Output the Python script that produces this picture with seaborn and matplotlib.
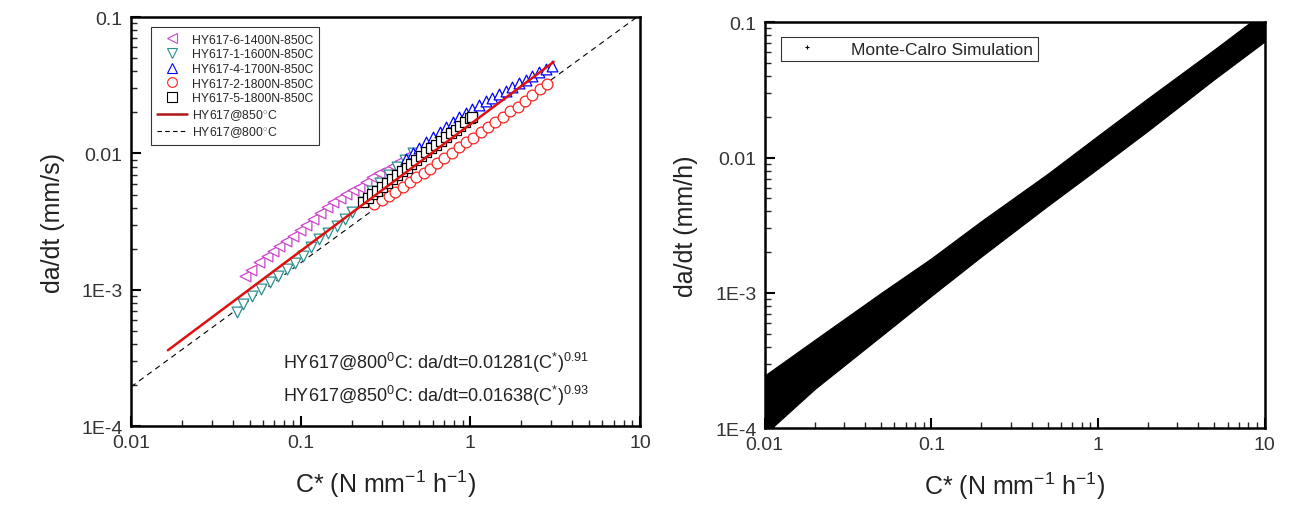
"""
Crack growth rate vs C* : test data (left) and Monte-Carlo simulation band (right)
"""

import matplotlib
matplotlib.use("Agg")
import matplotlib.pyplot as plt
from matplotlib.lines import Line2D
from matplotlib.ticker import FixedLocator, FixedFormatter, LogLocator, NullFormatter
import seaborn as sns

# ---- test data (C*, da/dt) ----
s6_x = [0.047, 0.051, 0.057, 0.063, 0.069, 0.075, 0.082, 0.090, 0.099, 0.108, 0.118, 0.130, 0.142,
        0.156, 0.170, 0.186, 0.204, 0.222, 0.243, 0.265, 0.290, 0.318, 0.348, 0.383, 0.421]
s6_y = [1.26e-3, 1.40e-3, 1.60e-3, 1.77e-3, 1.93e-3, 2.10e-3, 2.28e-3, 2.47e-3, 2.75e-3, 2.97e-3,
        3.30e-3, 3.65e-3, 4.03e-3, 4.40e-3, 4.72e-3, 5.05e-3, 5.38e-3, 5.66e-3, 6.15e-3, 6.70e-3,
        7.15e-3, 7.60e-3, 8.07e-3, 8.80e-3, 9.55e-3]

s1_x = [0.042, 0.046, 0.052, 0.058, 0.066, 0.074, 0.083, 0.092, 0.103, 0.115, 0.129, 0.145, 0.163,
        0.182, 0.202, 0.232, 0.262, 0.292, 0.330, 0.370, 0.410, 0.460]
s1_y = [6.85e-4, 7.80e-4, 8.98e-4, 1.02e-3, 1.14e-3, 1.27e-3, 1.42e-3, 1.58e-3, 1.77e-3, 2.05e-3,
        2.35e-3, 2.62e-3, 2.93e-3, 3.30e-3, 3.71e-3, 4.40e-3, 5.30e-3, 6.10e-3, 7.00e-3, 8.00e-3,
        9.00e-3, 1.00e-2]

s4_x = [0.42, 0.46, 0.50, 0.55, 0.60, 0.66, 0.72, 0.79, 0.86, 0.94, 1.03, 1.13, 1.24, 1.35, 1.48,
        1.62, 1.77, 1.94, 2.12, 2.32, 2.54, 2.78, 3.04]
s4_y = [9.1e-3, 1.00e-2, 1.09e-2, 1.21e-2, 1.32e-2, 1.44e-2, 1.57e-2, 1.71e-2, 1.85e-2, 1.99e-2,
        2.12e-2, 2.27e-2, 2.43e-2, 2.57e-2, 2.72e-2, 2.89e-2, 3.07e-2, 3.28e-2, 3.47e-2, 3.70e-2,
        3.93e-2, 4.15e-2, 4.37e-2]

s2_x = [0.272, 0.30, 0.33, 0.36, 0.40, 0.44, 0.48, 0.53, 0.58, 0.64, 0.70, 0.78, 0.86, 0.94, 1.04,
        1.15, 1.27, 1.40, 1.55, 1.72, 1.90, 2.10, 2.32, 2.57, 2.84]
s2_y = [4.25e-3, 4.55e-3, 4.88e-3, 5.22e-3, 5.70e-3, 6.20e-3, 6.70e-3, 7.20e-3, 7.75e-3, 8.45e-3,
        9.20e-3, 1.01e-2, 1.11e-2, 1.21e-2, 1.31e-2, 1.43e-2, 1.56e-2, 1.70e-2, 1.86e-2, 2.04e-2,
        2.21e-2, 2.42e-2, 2.68e-2, 2.95e-2, 3.22e-2]

s5_x = [0.232, 0.248, 0.265, 0.283, 0.302, 0.323, 0.345, 0.369, 0.394, 0.421, 0.450, 0.481, 0.514,
        0.549, 0.587, 0.627, 0.670, 0.716, 0.765, 0.818, 0.874, 0.934, 0.998, 1.03]
s5_y = [4.40e-3, 4.70e-3, 5.02e-3, 5.35e-3, 5.70e-3, 6.08e-3, 6.48e-3, 6.92e-3, 7.38e-3, 7.86e-3,
        8.38e-3, 8.94e-3, 9.54e-3, 1.02e-2, 1.09e-2, 1.16e-2, 1.24e-2, 1.32e-2, 1.41e-2, 1.50e-2,
        1.60e-2, 1.71e-2, 1.82e-2, 1.85e-2]

# fitted lines (end points)
fit850_x = [0.0165, 3.1]
fit850_y = [3.6e-4, 4.7e-2]
fit800_x = [0.01, 10]
fit800_y = [1.94e-4, 0.104]

series_labels = ["HY617-6-1400N-850C", "HY617-1-1600N-850C", "HY617-4-1700N-850C",
                 "HY617-2-1800N-850C", "HY617-5-1800N-850C"]
fit_labels = ["HY617@850$^{\\circ}$C", "HY617@800$^{\\circ}$C"]
fit_notes = ["HY617@800$^{0}$C: da/dt=0.01281(C$^{*}$)$^{0.91}$",
             "HY617@850$^{0}$C: da/dt=0.01638(C$^{*}$)$^{0.93}$"]

# ---- Monte-Carlo band (upper / lower edge of the cloud) ----
mc_x = [0.01, 0.02, 0.05, 0.1, 0.2, 0.5, 1, 2, 5, 10]
mc_upper = [2.45e-4, 4.5e-4, 1.0e-3, 1.8e-3, 3.4e-3, 7.6e-3, 1.45e-2, 2.75e-2, 6.3e-2, 0.12]
mc_lower = [9.0e-5, 1.95e-4, 4.8e-4, 9.5e-4, 1.86e-3, 4.4e-3, 8.3e-3, 1.58e-2, 3.8e-2, 7.2e-2]

y_ticks = [1e-4, 1e-3, 1e-2, 1e-1]
y_ticklabels = ["1E-4", "1E-3", "0.01", "0.1"]
x_ticks = [0.01, 0.1, 1, 10]
x_ticklabels = ["0.01", "0.1", "1", "10"]

sns.set_theme(style="ticks")
plt.rcParams['font.family'] = ['Liberation Sans', 'DejaVu Sans']
plt.rcParams['mathtext.fontset'] = 'custom'
plt.rcParams['mathtext.rm'] = 'Liberation Sans'
plt.rcParams['mathtext.it'] = 'Liberation Sans'


def style_axes(ax, ylabel):
    ax.set_xscale('log')
    ax.set_yscale('log')
    ax.set_xlim(0.01, 10)
    ax.set_ylim(1e-4, 0.1)
    ax.xaxis.set_major_locator(FixedLocator(x_ticks))
    ax.xaxis.set_major_formatter(FixedFormatter(x_ticklabels))
    ax.yaxis.set_major_locator(FixedLocator(y_ticks))
    ax.yaxis.set_major_formatter(FixedFormatter(y_ticklabels))
    ax.xaxis.set_minor_locator(LogLocator(base=10, subs=range(2, 10)))
    ax.yaxis.set_minor_locator(LogLocator(base=10, subs=range(2, 10)))
    ax.xaxis.set_minor_formatter(NullFormatter())
    ax.yaxis.set_minor_formatter(NullFormatter())
    ax.tick_params(which='major', direction='in', length=7, width=1.5, labelsize=14,
                   top=False, right=False, pad=6, colors='black', labelcolor='#333333')
    ax.tick_params(which='minor', direction='in', length=4, width=1.0, top=False, right=False)
    for sp in ax.spines.values():
        sp.set_linewidth(1.8)
        sp.set_color('black')
    ax.set_xlabel("C* (N mm$^{-1}$ h$^{-1}$)", fontsize=18, labelpad=12, color='#222222')
    ax.set_ylabel(ylabel, fontsize=18, labelpad=12, color='#222222')


fig = plt.figure(figsize=(13.05, 5.06), dpi=100)
ax1 = fig.add_axes([0.1004, 0.156, 0.390, 0.808])
ax2 = fig.add_axes([0.586, 0.152, 0.383, 0.802])

# ---- left panel ----
style_axes(ax1, "da/dt (mm/s)")

ax1.plot(fit800_x, fit800_y, color='black', lw=0.8, ls=(0, (5, 4)), zorder=1)

colors = ['#cc44cc', '#2a9090', '#0000ff', '#ff2020', 'black']
markers = ['<', 'v', '^', 'o', 's']
data = [(s6_x, s6_y), (s1_x, s1_y), (s4_x, s4_y), (s2_x, s2_y), (s5_x, s5_y)]
for (xs, ys), col, mk in zip(data, colors, markers):
    sns.scatterplot(x=xs, y=ys, ax=ax1, marker=mk, s=60, color='white', edgecolor=col,
                    linewidth=0.9, zorder=3)

ax1.plot(fit850_x, fit850_y, color='#e01010', lw=1.8, zorder=4)

handles = [Line2D([], [], ls='none', marker=mk, markersize=7, markerfacecolor='white',
                  markeredgecolor=col, markeredgewidth=0.8)
           for col, mk in zip(colors, markers)]
handles += [Line2D([], [], color='#b01818', lw=1.8), Line2D([], [], color='black', lw=0.8, ls=(0, (4, 3)))]
leg = ax1.legend(handles, series_labels + fit_labels, loc='upper left', fontsize=8.8,
                 frameon=True, fancybox=False, edgecolor='black', handlelength=2.4,
                 borderpad=0.5, labelspacing=0.22, handletextpad=0.4,
                 bbox_to_anchor=(0.028, 0.99))
leg.get_frame().set_linewidth(0.8)

ax1.text(0.298, 0.158, fit_notes[0], transform=ax1.transAxes, fontsize=13, ha='left', va='center',
         color='#222222')
ax1.text(0.298, 0.075, fit_notes[1], transform=ax1.transAxes, fontsize=13, ha='left', va='center',
         color='#222222')

# ---- right panel ----
style_axes(ax2, "da/dt (mm/h)")
ax2.fill_between(mc_x, mc_lower, mc_upper, color='black', lw=0.8, edgecolor='black', zorder=2)
mc_handle = Line2D([], [], ls='none', marker='+', markersize=3, color='black', markeredgewidth=0.8)
leg2 = ax2.legend([mc_handle], ["Monte-Calro Simulation"], loc='upper left', fontsize=12.5,
                  frameon=True, fancybox=False, edgecolor='black', handlelength=2.5,
                  borderpad=0.25, handletextpad=1.3, bbox_to_anchor=(0.015, 0.985))
leg2.get_frame().set_linewidth(0.8)

fig.savefig("out.png", dpi=100)
